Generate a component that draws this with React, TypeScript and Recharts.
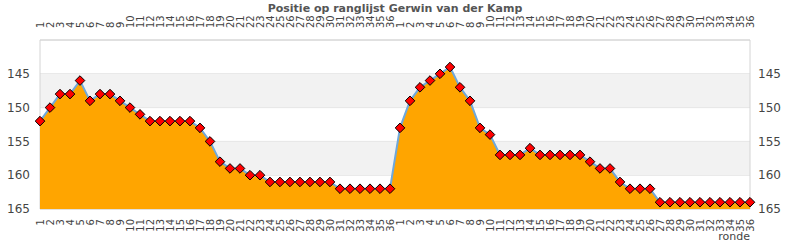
import { Area, AreaChart, CartesianGrid, ReferenceArea, XAxis, YAxis } from "recharts";

const rondes = [
  "1", "2", "3", "4", "5", "6", "7", "8", "9", "10", "11", "12",
  "13", "14", "15", "16", "17", "18", "19", "20", "21", "22", "23", "24",
  "25", "26", "27", "28", "29", "30", "31", "32", "33", "34", "35", "36",
];

// positie per ronde, eerste seizoen
const seizoen1 = [
  152, 150, 148, 148, 146, 149, 148, 148, 149, 150, 151, 152,
  152, 152, 152, 152, 153, 155, 158, 159, 159, 160, 160, 161,
  161, 161, 161, 161, 161, 161, 162, 162, 162, 162, 162, 162,
];

// positie per ronde, tweede seizoen
const seizoen2 = [
  153, 149, 147, 146, 145, 144, 147, 149, 153, 154, 157, 157,
  157, 156, 157, 157, 157, 157, 157, 158, 159, 159, 161, 162,
  162, 162, 164, 164, 164, 164, 164, 164, 164, 164, 164, 164,
];

const yTicks = [145, 150, 155, 160, 165];
const yDomain = [140, 165];

const data = [...seizoen1, ...seizoen2].map((positie, idx) => ({
  idx,
  ronde: rondes[idx % rondes.length],
  positie,
}));

const FONT = "DejaVu Sans, sans-serif";

function RondeTick(props: any) {
  const { x, payload, top } = props;
  const y0 = top ? 28 : 219;
  return (
    <text
      x={x}
      y={y0}
      transform={`rotate(-90, ${x}, ${y0})`}
      textAnchor={top ? "start" : "end"}
      dominantBaseline="central"
      fontSize={10}
      fill="#444"
      fontFamily={FONT}
    >
      {data[payload.value]?.ronde}
    </text>
  );
}

function Diamond(props: any) {
  const { cx, cy, index } = props;
  if (cx == null || cy == null) return <g key={index} />;
  const r = 4.8;
  return (
    <path
      key={index}
      d={`M${cx},${cy - r}L${cx + r},${cy}L${cx},${cy + r}L${cx - r},${cy}Z`}
      fill="#ff0000"
      stroke="#000"
      strokeWidth={1}
      strokeLinejoin="round"
    />
  );
}

export default function App() {
  return (
    <div style={{ position: "absolute", left: 0, top: 0, width: 790, height: 250, fontFamily: FONT }}>
      <div
        style={{
          position: "absolute",
          left: 0,
          width: 790,
          top: 2,
          textAlign: "center",
          fontSize: 11,
          fontWeight: "bold",
          color: "#555",
        }}
      >
        Positie op ranglijst Gerwin van der Kamp
      </div>
      <AreaChart width={790} height={250} data={data} margin={{ top: 0, right: 0, bottom: 0, left: 0 }}>
        <XAxis
          xAxisId="top"
          orientation="top"
          dataKey="idx"
          type="category"
          interval={0}
          height={40}
          axisLine={false}
          tickLine={false}
          tick={<RondeTick top />}
        />
        <XAxis
          xAxisId="bottom"
          dataKey="idx"
          type="category"
          interval={0}
          height={41}
          axisLine={false}
          tickLine={false}
          tick={<RondeTick />}
        />
        <YAxis
          yAxisId="left"
          domain={yDomain}
          ticks={yTicks}
          reversed
          allowDataOverflow
          width={40}
          axisLine={false}
          tickLine={false}
          tickSize={0}
          tickMargin={10}
          tick={{ fontSize: 12, fill: "#444", fontFamily: FONT }}
        />
        <YAxis
          yAxisId="right"
          orientation="right"
          domain={yDomain}
          ticks={yTicks}
          reversed
          allowDataOverflow
          width={40}
          axisLine={false}
          tickLine={false}
          tickSize={0}
          tickMargin={8}
          tick={{ fontSize: 12, fill: "#444", fontFamily: FONT }}
        />
        <ReferenceArea xAxisId="bottom" yAxisId="left" y1={145} y2={150} fill="#f2f2f2" fillOpacity={1} />
        <ReferenceArea xAxisId="bottom" yAxisId="left" y1={155} y2={160} fill="#f2f2f2" fillOpacity={1} />
        <CartesianGrid xAxisId="bottom" yAxisId="left" vertical={false} stroke="#dcdcdc" />
        <ReferenceArea
          xAxisId="bottom"
          yAxisId="left"
          y1={140}
          y2={165}
          fill="none"
          stroke="#d4d4d4"
          strokeWidth={1}
        />
        <Area
          xAxisId="bottom"
          yAxisId="left"
          type="linear"
          dataKey="positie"
          baseValue={165}
          stroke="#6fa8dc"
          strokeWidth={2}
          fill="#ffa500"
          fillOpacity={1}
          dot={Diamond}
          activeDot={false}
          isAnimationActive={false}
        />
      </AreaChart>
      <div
        style={{
          position: "absolute",
          right: 40,
          top: 230,
          fontSize: 11,
          color: "#444",
        }}
      >
        ronde
      </div>
    </div>
  );
}
